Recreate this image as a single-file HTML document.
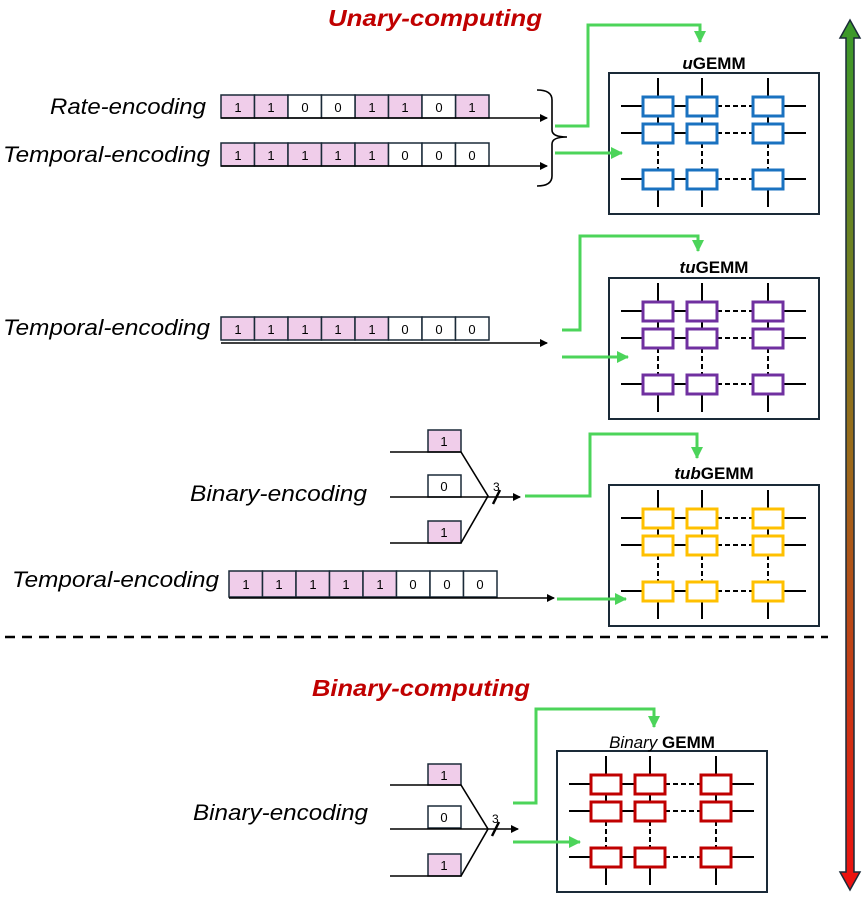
<!DOCTYPE html>
<html><head><meta charset="utf-8"><style>body{margin:0;background:#fff}svg{display:block}</style></head><body>
<svg width="866" height="910" viewBox="0 0 866 910" xmlns="http://www.w3.org/2000/svg" font-family="Liberation Sans, sans-serif">
<defs>
<linearGradient id="gr" x1="0" y1="0" x2="0" y2="1"><stop offset="0" stop-color="#3a9a2a"/><stop offset="0.5" stop-color="#9a6a1a"/><stop offset="1" stop-color="#ee1010"/></linearGradient>
<marker id="ak" markerWidth="8" markerHeight="8" refX="7" refY="4" orient="auto" markerUnits="userSpaceOnUse"><path d="M0,0L8,4L0,8z" fill="#000"/></marker>
<marker id="ag" markerWidth="12" markerHeight="12" refX="11" refY="6" orient="auto" markerUnits="userSpaceOnUse"><path d="M0,0L12,6L0,12z" fill="#4cd45a"/></marker>
<g id="gm">
<rect x="0" y="0" width="210" height="141" fill="#fff" stroke="#1a2a38" stroke-width="2"/>
<g stroke="#000" stroke-width="2" fill="none">
<path d="M12,33H108M144,33H197M12,60H108M144,60H197M12,106H108M144,106H197"/>
<path d="M49,5V70M93,5V70M159,5V70M49,96V134M93,96V134M159,96V134"/>
<path d="M108,33H144M108,60H144M108,106H144M49,70V96M93,70V96M159,70V96" stroke-dasharray="5,3"/>
</g>
<g fill="#fff" stroke-width="3">
<rect x="34" y="24" width="30" height="19"/><rect x="78" y="24" width="30" height="19"/><rect x="144" y="24" width="30" height="19"/>
<rect x="34" y="51" width="30" height="19"/><rect x="78" y="51" width="30" height="19"/><rect x="144" y="51" width="30" height="19"/>
<rect x="34" y="97" width="30" height="19"/><rect x="78" y="97" width="30" height="19"/><rect x="144" y="97" width="30" height="19"/>
</g>
</g>
</defs>

<text x="435" y="26" text-anchor="middle" font-size="23" font-weight="bold" font-style="italic" fill="#C00000" textLength="214" lengthAdjust="spacingAndGlyphs">Unary-computing</text>
<text x="421" y="696" text-anchor="middle" font-size="23" font-weight="bold" font-style="italic" fill="#C00000" textLength="218" lengthAdjust="spacingAndGlyphs">Binary-computing</text>

<g font-size="22" font-style="italic" fill="#000">
<text x="50" y="114" textLength="156" lengthAdjust="spacingAndGlyphs">Rate-encoding</text>
<text x="3" y="162" textLength="207" lengthAdjust="spacingAndGlyphs">Temporal-encoding</text>
<text x="3" y="335" textLength="207" lengthAdjust="spacingAndGlyphs">Temporal-encoding</text>
<text x="190" y="501" textLength="177" lengthAdjust="spacingAndGlyphs">Binary-encoding</text>
<text x="12" y="587" textLength="207" lengthAdjust="spacingAndGlyphs">Temporal-encoding</text>
<text x="193" y="820" textLength="175" lengthAdjust="spacingAndGlyphs">Binary-encoding</text>
</g>

<use href="#gm" x="609" y="73" stroke="#1a72c0"/>
<use href="#gm" x="609" y="278" stroke="#7030a0"/>
<use href="#gm" x="609" y="485" stroke="#ffc000"/>
<use href="#gm" x="557" y="751" stroke="#c00000"/>
<g font-size="17" font-weight="bold" text-anchor="middle" fill="#000">
<text x="714" y="69"><tspan font-style="italic">u</tspan>GEMM</text>
<text x="714" y="273"><tspan font-style="italic">tu</tspan>GEMM</text>
<text x="714" y="479"><tspan font-style="italic">tub</tspan>GEMM</text>
<text x="662" y="748"><tspan font-style="italic" font-weight="normal">Binary</tspan> GEMM</text>
</g>

<g stroke="#1a2a38" stroke-width="1.5">
<g fill="#f0cdea">
<rect x="221" y="95" width="33.5" height="23"/><rect x="254.5" y="95" width="33.5" height="23"/><rect x="355" y="95" width="33.5" height="23"/><rect x="388.5" y="95" width="33.5" height="23"/><rect x="455.5" y="95" width="33.5" height="23"/>
<rect x="221" y="143" width="33.5" height="23"/><rect x="254.5" y="143" width="33.5" height="23"/><rect x="288" y="143" width="33.5" height="23"/><rect x="321.5" y="143" width="33.5" height="23"/><rect x="355" y="143" width="33.5" height="23"/>
<rect x="221" y="317" width="33.5" height="23"/><rect x="254.5" y="317" width="33.5" height="23"/><rect x="288" y="317" width="33.5" height="23"/><rect x="321.5" y="317" width="33.5" height="23"/><rect x="355" y="317" width="33.5" height="23"/>
<rect x="229" y="571" width="33.5" height="26"/><rect x="262.5" y="571" width="33.5" height="26"/><rect x="296" y="571" width="33.5" height="26"/><rect x="329.5" y="571" width="33.5" height="26"/><rect x="363" y="571" width="33.5" height="26"/>
<rect x="428" y="430" width="33" height="22"/><rect x="428" y="521" width="33" height="22"/>
<rect x="428" y="764" width="33" height="21"/><rect x="428" y="854" width="33" height="22"/>
</g>
<g fill="#fff">
<rect x="288" y="95" width="33.5" height="23"/><rect x="321.5" y="95" width="33.5" height="23"/><rect x="422" y="95" width="33.5" height="23"/>
<rect x="388.5" y="143" width="33.5" height="23"/><rect x="422" y="143" width="33.5" height="23"/><rect x="455.5" y="143" width="33.5" height="23"/>
<rect x="388.5" y="317" width="33.5" height="23"/><rect x="422" y="317" width="33.5" height="23"/><rect x="455.5" y="317" width="33.5" height="23"/>
<rect x="396.5" y="571" width="33.5" height="26"/><rect x="430" y="571" width="33.5" height="26"/><rect x="463.5" y="571" width="33.5" height="26"/>
<rect x="428" y="475" width="33" height="22"/><rect x="428" y="806" width="33" height="22"/>
</g>
</g>
<g font-size="13" text-anchor="middle" fill="#000">
<text x="238" y="112">1</text><text x="271" y="112">1</text><text x="305" y="112">0</text><text x="338" y="112">0</text><text x="372" y="112">1</text><text x="405" y="112">1</text><text x="439" y="112">0</text><text x="472" y="112">1</text>
<text x="238" y="160">1</text><text x="271" y="160">1</text><text x="305" y="160">1</text><text x="338" y="160">1</text><text x="372" y="160">1</text><text x="405" y="160">0</text><text x="439" y="160">0</text><text x="472" y="160">0</text>
<text x="238" y="334">1</text><text x="271" y="334">1</text><text x="305" y="334">1</text><text x="338" y="334">1</text><text x="372" y="334">1</text><text x="405" y="334">0</text><text x="439" y="334">0</text><text x="472" y="334">0</text>
<text x="246" y="589">1</text><text x="279" y="589">1</text><text x="313" y="589">1</text><text x="346" y="589">1</text><text x="380" y="589">1</text><text x="413" y="589">0</text><text x="447" y="589">0</text><text x="480" y="589">0</text>
<text x="444" y="446">1</text><text x="444" y="491">0</text><text x="444" y="537">1</text>
<text x="444" y="780">1</text><text x="444" y="822">0</text><text x="444" y="870">1</text>
</g>

<g stroke="#000" stroke-width="1.6" fill="none">
<path d="M221,118H547" marker-end="url(#ak)"/>
<path d="M221,166H547" marker-end="url(#ak)"/>
<path d="M221,343H547" marker-end="url(#ak)"/>
<path d="M229,598H554" marker-end="url(#ak)"/>
<path d="M537,90Q552,90 552,100V130Q552,137 567,137Q552,137 552,144V176Q552,186 537,186"/>
<path d="M390,452H461L488,496L461,543H390"/>
<path d="M390,497H520" marker-end="url(#ak)"/>
<path d="M493,504L500,490" stroke-width="2.5"/>
<path d="M390,785H461L488,829L461,876H390"/>
<path d="M390,829H518" marker-end="url(#ak)"/>
<path d="M492,836L499,822" stroke-width="2.5"/>
</g>
<g font-size="12" fill="#000"><text x="493" y="491">3</text><text x="492" y="823">3</text></g>

<g stroke="#4cd45a" stroke-width="3" fill="none">
<path d="M555,126H588V25H700V42" marker-end="url(#ag)"/>
<path d="M555,153H622" marker-end="url(#ag)"/>
<path d="M562,330H580V236H698V251" marker-end="url(#ag)"/>
<path d="M562,357H628" marker-end="url(#ag)"/>
<path d="M525,496H590V434H697V458" marker-end="url(#ag)"/>
<path d="M557,599H626" marker-end="url(#ag)"/>
<path d="M513,803H536V709H654V727" marker-end="url(#ag)"/>
<path d="M513,842H580" marker-end="url(#ag)"/>
</g>

<path d="M5,637H828" stroke="#000" stroke-width="2.5" stroke-dasharray="10,7"/>

<path d="M850,20L860,38H854V872H860L850,890L840,872H846V38H840Z" fill="url(#gr)" stroke="#1a2a38" stroke-width="1.5"/>
</svg>
</body></html>
